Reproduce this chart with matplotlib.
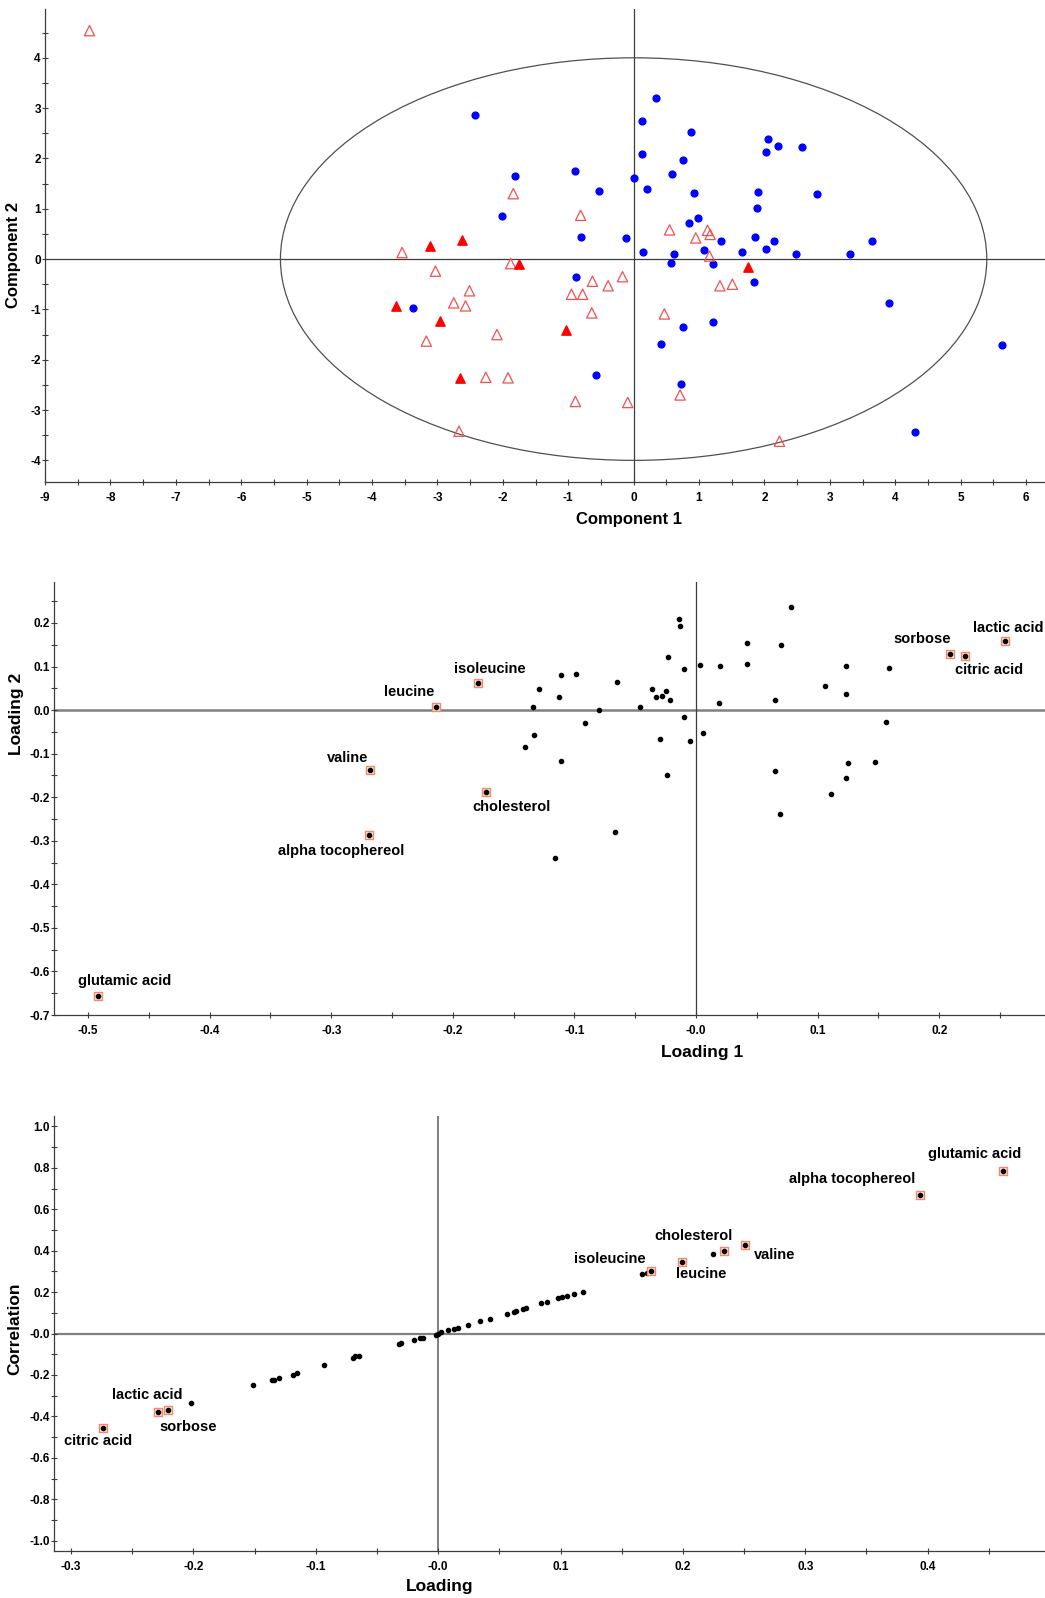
import matplotlib
matplotlib.use('Agg')
import matplotlib.pyplot as plt
from matplotlib.patches import Ellipse
from matplotlib.ticker import MultipleLocator

plt.rcParams['font.family'] = ['Liberation Sans', 'DejaVu Sans']
plt.rcParams['font.weight'] = 'bold'

# --- scores: component 1 / component 2 ---
blue_x = [-2.42, -1.81, -2.02, -3.37, 0.34, 0.13, 0.88, 0.13, 2.06, 2.21, 2.02, 2.57,
          0.75, -0.89, 0.59, 0.01, -0.53, 0.21, 0.93, 1.90, 2.80, 1.88, 0.99, 0.85,
          -0.80, -0.11, 1.34, 1.85, 2.14, 3.65, 1.08, 2.03, 0.15, 0.61, 1.66, 2.48,
          3.31, 0.57, 1.22, -0.88, 1.84, 3.91, 1.22, 0.76, 0.42, 5.64, -0.57, 0.73, 4.30]
blue_y = [2.86, 1.66, 0.85, -0.97, 3.20, 2.75, 2.52, 2.08, 2.38, 2.24, 2.13, 2.23,
          1.97, 1.75, 1.69, 1.62, 1.35, 1.40, 1.31, 1.34, 1.30, 1.01, 0.82, 0.72,
          0.44, 0.42, 0.36, 0.44, 0.35, 0.35, 0.19, 0.20, 0.14, 0.10, 0.15, 0.11,
          0.10, -0.07, -0.10, -0.36, -0.45, -0.87, -1.25, -1.34, -1.68, -1.71, -2.31, -2.48, -3.44]

open_x = [-8.32, -3.54, -3.03, -2.51, -2.75, -2.57, -3.17, -2.09, -2.26, -1.92, -2.67,
          -1.84, -1.88, -0.81, 0.55, 1.13, 1.17, 0.95, 1.16, -0.17, -0.63, -0.39, -0.95,
          -0.78, -0.64, 1.32, 1.51, 0.47, 0.71, -0.89, -0.09, 2.23]
open_y = [4.54, 0.13, -0.24, -0.63, -0.87, -0.93, -1.63, -1.50, -2.35, -2.36, -3.42,
          1.30, -0.09, 0.87, 0.58, 0.57, 0.49, 0.42, 0.06, -0.35, -0.44, -0.53, -0.70,
          -0.70, -1.07, -0.53, -0.50, -1.09, -2.70, -2.83, -2.85, -3.62]

filled_x = [-3.12, -2.63, -1.75, -3.64, -2.96, -2.65, 1.75, -1.04]
filled_y = [0.26, 0.38, -0.09, -0.93, -1.23, -2.36, -0.15, -1.41]

# confidence ellipse semi-axes
ell_a, ell_b = 5.4, 4.0

# --- loadings: loading 1 / loading 2 ---
load1 = [0.078, -0.014, -0.0135, 0.042, 0.070, -0.023, 0.003, 0.020, 0.042, 0.123, 0.159,
         -0.010, -0.111, -0.099, -0.065, -0.129, -0.036, -0.025, -0.113, -0.033, -0.028,
         -0.021, 0.106, 0.123, 0.065, 0.019, -0.134, -0.046, -0.080, -0.091, -0.010,
         -0.133, 0.006, -0.030, -0.005, 0.156, -0.141, -0.111, -0.024, 0.065, 0.125,
         0.147, 0.123, 0.111, 0.069, -0.067, -0.116]
load2 = [0.236, 0.209, 0.194, 0.153, 0.150, 0.122, 0.104, 0.101, 0.106, 0.101, 0.096,
         0.094, 0.080, 0.082, 0.065, 0.049, 0.049, 0.044, 0.029, 0.029, 0.033,
         0.024, 0.055, 0.036, 0.024, 0.017, 0.007, 0.008, 0.000, -0.029, -0.016,
         -0.057, -0.052, -0.067, -0.070, -0.028, -0.084, -0.117, -0.148, -0.140, -0.122,
         -0.120, -0.156, -0.192, -0.238, -0.279, -0.340]

named = ['glutamic acid', 'alpha tocophereol', 'valine', 'cholesterol', 'leucine',
         'isoleucine', 'lactic acid', 'sorbose', 'citric acid']
named_load1 = [-0.492, -0.269, -0.268, -0.173, -0.214, -0.179, 0.254, 0.209, 0.221]
named_load2 = [-0.656, -0.287, -0.138, -0.187, 0.008, 0.061, 0.158, 0.129, 0.125]

# --- loading vs correlation ---
corr_load = [-0.202, -0.151, -0.136, -0.134, -0.130, -0.119, -0.115, -0.093, -0.070,
             -0.068, -0.065, -0.032, -0.030, -0.020, -0.015, -0.012, -0.002, -0.0005,
             0.002, 0.008, 0.013, 0.016, 0.024, 0.034, 0.042, 0.056, 0.062, 0.064, 0.069,
             0.072, 0.084, 0.089, 0.098, 0.101, 0.105, 0.111, 0.118, 0.167, 0.171, 0.225]
corr_val = [-0.336, -0.248, -0.225, -0.224, -0.214, -0.198, -0.191, -0.151, -0.116,
            -0.111, -0.108, -0.051, -0.048, -0.031, -0.024, -0.021, -0.005, -0.002,
            0.005, 0.016, 0.024, 0.027, 0.043, 0.058, 0.072, 0.095, 0.106, 0.109, 0.117,
            0.121, 0.146, 0.151, 0.169, 0.174, 0.179, 0.190, 0.201, 0.286, 0.291, 0.383]
named_corr_load = [0.462, 0.394, 0.251, 0.234, 0.199, 0.174, -0.229, -0.221, -0.274]
named_corr_val = [0.785, 0.669, 0.426, 0.399, 0.343, 0.301, -0.381, -0.367, -0.457]

score_xticks = list(range(-9, 7))
score_yticks = list(range(-4, 5))
load_xticks = [-0.5, -0.4, -0.3, -0.2, -0.1, 0.0, 0.1, 0.2]
load_xlabels = ['-0.5', '-0.4', '-0.3', '-0.2', '-0.1', '-0.0', '0.1', '0.2']
load_yticks = [0.2, 0.1, 0.0, -0.1, -0.2, -0.3, -0.4, -0.5, -0.6, -0.7]
load_ylabels = ['0.2', '0.1', '0.0', '-0.1', '-0.2', '-0.3', '-0.4', '-0.5', '-0.6', '-0.7']
corr_xticks = [-0.3, -0.2, -0.1, 0.0, 0.1, 0.2, 0.3, 0.4]
corr_xlabels = ['-0.3', '-0.2', '-0.1', '-0.0', '0.1', '0.2', '0.3', '0.4']
corr_yticks = [1.0, 0.8, 0.6, 0.4, 0.2, 0.0, -0.2, -0.4, -0.6, -0.8, -1.0]
corr_ylabels = ['1.0', '0.8', '0.6', '0.4', '0.2', '-0.0', '-0.2', '-0.4', '-0.6', '-0.8', '-1.0']

W, H = 1045, 1598
fig = plt.figure(figsize=(W / 100, H / 100), dpi=100)

AX_COL = '#3c3c3c'
SQ_EDGE = '#f08a68'
SQ_FACE = '#fde6dc'


def add_px_axes(left, top, right, bottom):
    return fig.add_axes([left / W, 1 - bottom / H, (right - left) / W, (bottom - top) / H])


def px_text(x, y, s, size, rot=0):
    fig.text(x / W, 1 - y / H, s, rotation=rot, fontsize=size, fontweight='bold',
             ha='center', va='center')


def style(ax):
    for s in ('top', 'right'):
        ax.spines[s].set_visible(False)
    for s in ('left', 'bottom'):
        ax.spines[s].set_color(AX_COL)
        ax.spines[s].set_linewidth(0.9)
    ax.tick_params(which='both', direction='inout', length=4, width=0.8, color=AX_COL,
                   labelsize=8.5)
    ax.tick_params(axis='x', pad=5)
    ax.tick_params(axis='y', pad=1)
    for lbl in ax.get_xticklabels() + ax.get_yticklabels():
        lbl.set_fontweight('bold')


def label_points(ax, xs, ys, names, offsets):
    ax.scatter(xs, ys, marker='s', s=26, facecolor=SQ_FACE, edgecolor=SQ_EDGE,
               linewidths=1.0, zorder=3)
    ax.scatter(xs, ys, s=9, color='black', zorder=4)
    for x, y, name, off in zip(xs, ys, names, offsets):
        ax.annotate(name, (x, y), xytext=off, textcoords='offset pixels',
                    ha='center', va='center', fontsize=10.5, fontweight='bold')


# scores plot
ax1 = add_px_axes(45, 9, 1045, 482)
ax1.axhline(0, color=AX_COL, lw=0.9, zorder=1)
ax1.axvline(0, color=AX_COL, lw=0.9, zorder=1)
ax1.add_patch(Ellipse((0, 0), 2 * ell_a, 2 * ell_b, fill=False, edgecolor='#505050', lw=0.9))
ax1.scatter(blue_x, blue_y, s=24, color='#0000ff', zorder=3)
ax1.scatter(open_x, open_y, marker='^', s=55, facecolor='none', edgecolor='#f25050',
            linewidths=0.9, zorder=3)
ax1.scatter(filled_x, filled_y, marker='^', s=45, color='#ff0000', zorder=3)
ax1.set_xlim(-9, 6.29)
ax1.set_ylim(-4.43, 4.97)
ax1.set_xticks(score_xticks, [str(v) for v in score_xticks])
ax1.set_yticks(score_yticks, [str(v) for v in score_yticks])
ax1.xaxis.set_minor_locator(MultipleLocator(0.5))
ax1.yaxis.set_minor_locator(MultipleLocator(0.5))
style(ax1)
px_text(629, 520, 'Component 1', 12)
px_text(14, 255, 'Component 2', 12, rot=90)

# loadings plot
ax2 = add_px_axes(54, 582, 1045, 1015)
ax2.axhline(0, color='#808080', lw=1.8, zorder=1)
ax2.axvline(0, color=AX_COL, lw=0.9, zorder=1)
ax2.scatter(load1, load2, s=9, color='black', zorder=3)
label_points(ax2, named_load1, named_load2, named,
             [(27, 15), (-28, -16), (-23, 12), (26, -15), (-27, 15),
              (11, 14), (3, 13), (-28, 15), (24, -14)])
ax2.set_xlim(-0.528, 0.287)
ax2.set_ylim(-0.7, 0.294)
ax2.set_xticks(load_xticks, load_xlabels)
ax2.set_yticks(load_yticks, load_ylabels)
ax2.xaxis.set_minor_locator(MultipleLocator(0.05))
ax2.yaxis.set_minor_locator(MultipleLocator(0.05))
style(ax2)
px_text(702, 1053, 'Loading 1', 12.5)
px_text(17, 714, 'Loading 2', 12.5, rot=90)

# correlation plot
ax3 = add_px_axes(54, 1116, 1045, 1551)
ax3.axhline(0, color='#808080', lw=1.6, zorder=1)
ax3.axvline(0, color='#808080', lw=1.4, zorder=1)
ax3.scatter(corr_load, corr_val, s=9, color='black', zorder=3)
label_points(ax3, named_corr_load, named_corr_val, named,
             [(-29, 17), (-68, 16), (29, -10), (-31, 15), (20, -12),
              (-41, 12), (-11, 17), (20, -17), (-5, -13)])
ax3.set_xlim(-0.314, 0.496)
ax3.set_ylim(-1.05, 1.05)
ax3.set_xticks(corr_xticks, corr_xlabels)
ax3.set_yticks(corr_yticks, corr_ylabels)
ax3.xaxis.set_minor_locator(MultipleLocator(0.05))
ax3.yaxis.set_minor_locator(MultipleLocator(0.1))
style(ax3)
px_text(440, 1586, 'Loading', 12.5)
px_text(15, 1329, 'Correlation', 12.5, rot=90)

fig.savefig('out.png', dpi=100)
